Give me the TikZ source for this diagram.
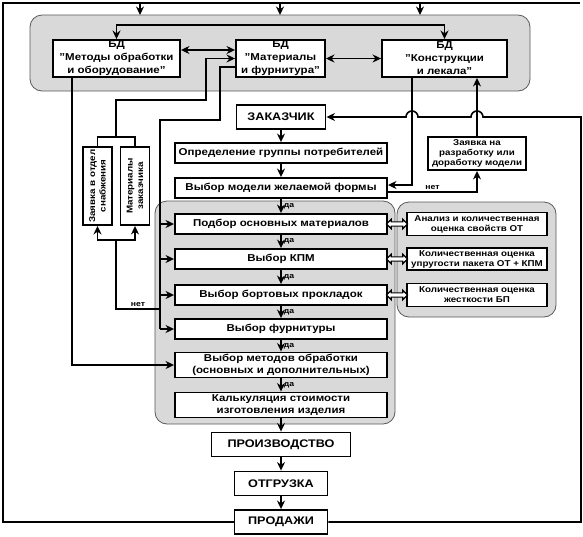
\documentclass[tikz,border=0pt]{standalone}
\usepackage{fontspec}
\setmainfont{Liberation Sans}[FakeStretch=1.15]
\usepackage{tikz}
\usetikzlibrary{arrows, arrows.meta, positioning, calc, shapes.arrows}
\tikzstyle{wire} = [line width=1.6pt]
\tikzstyle{arrow} = [line width=1.6pt,->,>={Stealth[length=8.5pt,width=8pt]}]
\tikzstyle{hollow} = [double arrow, draw, line width=1.1pt, fill=white, inner sep=1.6pt, minimum height=21pt, double arrow head extend=2.6pt, double arrow head indent=0pt]
\tikzstyle{zone} = [draw=black!65, line width=0.8pt, fill=black!15, rounded corners=12pt, inner sep=0pt]
\tikzstyle{box} = [draw, line width=1.9pt, fill=white, align=center, inner sep=0pt]
\tikzstyle{stepbox} = [box, minimum width=212pt, minimum height=20pt, font=\bfseries\fontsize{10}{11.5}\selectfont]
\tikzstyle{capsbox} = [box, minimum height=24pt, font=\bfseries\fontsize{11}{13}\selectfont]
\tikzstyle{dbbox} = [box, minimum height=37pt, font=\bfseries\fontsize{10}{13}\selectfont]
\tikzstyle{notebox} = [box, font=\bfseries\fontsize{8.5}{10}\selectfont]
\tikzstyle{vbox} = [box, rotate=90, minimum width=78pt, minimum height=29pt, font=\bfseries\fontsize{8.5}{10.5}\selectfont]
\tikzstyle{dalabel} = [right, inner sep=2pt, font=\bfseries\fontsize{7.5}{8}\selectfont]
\tikzstyle{netlabel} = [above, inner sep=2pt, font=\bfseries\fontsize{7.5}{8}\selectfont]

\begin{document}
\begin{tikzpicture}[x=1pt, y=-1pt]
\useasboundingbox (0,0) rectangle (583,536);

% Grey zones
\node[zone, minimum width=500pt, minimum height=76pt] (dbzone) at (280,53) {};
\node[zone, minimum width=240pt, minimum height=223pt] (selzone) at (275,312.5) {};
\node[zone, minimum width=159pt, minimum height=115pt] (evalzone) at (476.5,259.5) {};

% Databases
\node[dbbox, minimum width=127pt] (bdmet) at (116.5,58.5) {БД\\"Методы обработки\\и оборудование"};
\node[dbbox, minimum width=89pt] (bdmat) at (280.5,58.5) {БД\\"Материалы\\и фурнитура"};
\node[dbbox, minimum width=125pt] (bdkon) at (444.5,58.5) {БД\\"Конструкции\\и лекала"};

% Main column
\node[capsbox, minimum width=89pt] (zak) at (281,117) {ЗАКАЗЧИК};
\node[stepbox] (opr) at (281,153) {Определение группы потребителей};
\node[stepbox] (model) at (281,188) {Выбор модели желаемой формы};
\node[stepbox] (podbor) at (281,224) {Подбор основных материалов};
\node[stepbox] (kpm) at (281,259) {Выбор КПМ};
\node[stepbox] (bort) at (281,295) {Выбор бортовых прокладок};
\node[stepbox] (furn) at (281,329) {Выбор фурнитуры};
\node[stepbox, minimum height=25pt] (metod) at (281,365) {Выбор методов обработки\\(основных и дополнительных)};
\node[stepbox, minimum height=25pt] (kalk) at (281,405) {Калькуляция стоимости\\изготовления изделия};
\node[capsbox, minimum width=139pt] (proizv) at (281,444.5) {ПРОИЗВОДСТВО};
\node[capsbox, minimum width=93pt] (otgr) at (281,483.5) {ОТГРУЗКА};
\node[capsbox, minimum width=93pt] (prod) at (281,522) {ПРОДАЖИ};

% Left side
\node[vbox] (zsnab) at (97.5,186) {Заявка в отдел\\снабжения};
\node[vbox] (mzak) at (135,186) {Материалы\\заказчика};
\coordinate (brtop) at (116,137);
\coordinate (brbot) at (116,240);
\coordinate (bustop) at (160,120);
\coordinate (busno) at (160,309);

% Right side
\node[notebox, minimum width=98pt, minimum height=33pt] (zrazr) at (477,153.5) {Заявка на\\разработку или\\доработку модели};
\node[notebox, minimum width=140pt, minimum height=23pt] (analiz) at (477,224) {Анализ и количественная\\оценка свойств ОТ};
\node[notebox, minimum width=140pt, minimum height=22pt] (uprug) at (477,259) {Количественная оценка\\упругости пакета ОТ + КПМ};
\node[notebox, minimum width=140pt, minimum height=23pt] (zhest) at (477,295) {Количественная оценка\\жесткости БП};

% Outer loop
\draw[wire] (prod.west) -- (3,522) -- (3,3) -- (580,3);
\foreach \x in {140,280,420}
  \draw[arrow] (\x,3) -- (\x,15);
\draw[arrow] (prod.east) -- (581,522) -- (581,117) -- (483,117) arc[start angle=0, end angle=-180, radius=6]
  -- (418,117) arc[start angle=0, end angle=-180, radius=6] -- (zak.east);

% Database links
\draw[arrow, <->] (bdmet.north) |- (280,25) -| (bdkon.north);
\draw[arrow, <->] ([yshift=8.5pt]bdmet.east) -- ([yshift=8.5pt]bdmat.west);
\draw[arrow, <->] (bdmat) -- (bdkon);
\draw[arrow] ([xshift=-32.5pt]bdkon.south) |- ([yshift=3pt]model.east);
\draw[arrow] (zrazr.north) -- (zrazr.north |- bdkon.south);
\draw[arrow] ([yshift=-4pt]model.east) -| node[pos=0.25, netlabel] {нет} (zrazr.south);
\draw[arrow] ([xshift=-44.5pt]bdmet.south) |- (metod.west);

% Supply branch
\draw[wire] (zsnab.east) |- (brtop) -| (mzak.east);
\draw[arrow] (brtop) |- (206,100) |- (bdmat.west);
\draw[arrow] (brbot) -| (zsnab.west);
\draw[arrow] (brbot) -| (mzak.west);
\draw[wire] (brbot) |- node[pos=0.75, netlabel] {нет} (busno);

% Bus into selection steps
\draw[wire] ([yshift=-8.5pt]bdmat.west) -| (220,120) -- (bustop) -- (bustop |- furn.west);
\foreach \n in {podbor,kpm,bort,furn}
  \draw[arrow] (bustop |- \n.west) -- (\n.west);

% Main flow
\draw[arrow] (zak) -- (opr);
\draw[arrow] (opr) -- (model);
\foreach \a/\b in {model/podbor, podbor/kpm, kpm/bort, bort/furn, furn/metod, metod/kalk}
  \draw[arrow] (\a) -- node[dalabel] {да} (\b);
\draw[arrow] (kalk) -- (proizv);
\draw[arrow] (proizv) -- (otgr);
\draw[arrow] (otgr) -- (prod);

% Evaluation links
\foreach \a/\b in {podbor/analiz, kpm/uprug, bort/zhest}
  \path (\a.east) -- node[hollow] {} (\b.west);
\end{tikzpicture}
\end{document}
